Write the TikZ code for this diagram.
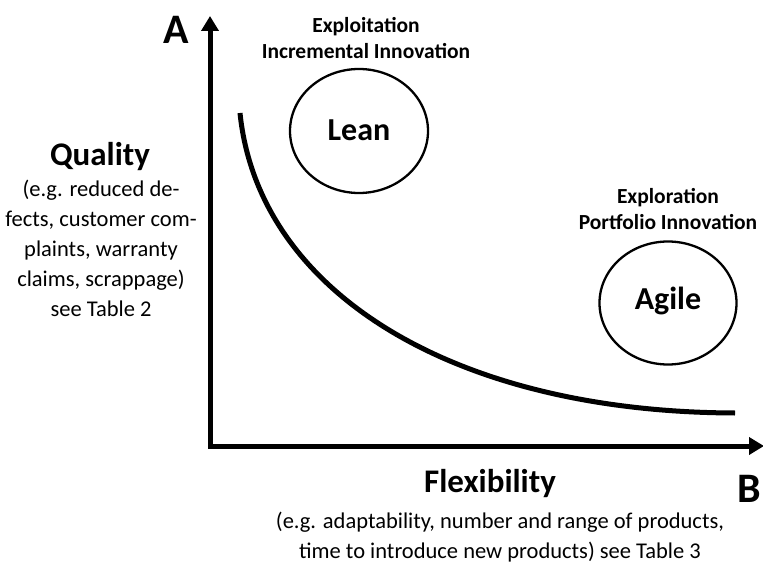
\documentclass[tikz,border=0pt]{standalone}
\usepackage{fontspec}
\setmainfont{Carlito}
\usetikzlibrary{arrows.meta,shapes.geometric}
\begin{document}
\begin{tikzpicture}[x=1pt,y=-1pt,
  axis/.style={line width=5pt,{Triangle[length=15pt,width=17pt]}-{Triangle[length=15pt,width=17pt]}},
  curvestyle/.style={line width=5pt},
  blob/.style={draw,line width=2.3pt,ellipse,inner sep=0pt},
  bigletter/.style={font=\fontsize{42}{42}\selectfont\bfseries},
  heading/.style={font=\fontsize{21.5}{26.5}\selectfont\bfseries,align=center},
  axlabel/.style={font=\fontsize{33}{36}\selectfont\bfseries},
  sub/.style={font=\fontsize{22.5}{30}\selectfont,align=center},
  circtext/.style={font=\fontsize{32}{32}\selectfont\bfseries}]
\useasboundingbox (0,0) rectangle (763,564);
\coordinate (atop) at (210,16);
\coordinate (corner) at (210,446);
\coordinate (bright) at (764,446);
\draw[axis] (atop) -- (corner) -- (bright);
\node[bigletter] (A) at (176,30) {A};
\node[bigletter] (B) at (749,489) {B};
\coordinate (cstart) at (240,113);
\coordinate (cend) at (735,413);
\draw[curvestyle] (cstart) .. controls (258,290) and (450,412) .. (cend);
\node[blob,minimum width=138pt,minimum height=124pt] (leanc) at (359,131) {};
\node[circtext] (lean) at (359,130) {Lean};
\node[blob,minimum width=137pt,minimum height=123pt] (agilec) at (668,303) {};
\node[circtext] (agile) at (668,301) {Agile};
\node[heading] (exploit) at (366,38) {Exploitation\\Incremental Innovation};
\node[heading] (explore) at (668,209) {Exploration\\Portfolio Innovation};
\node[axlabel] (quality) at (100,157) {Quality};
\node[sub] (qsub) at (101,248) {(e.g. reduced de-\\fects, customer com-\\plaints, warranty\\claims, scrappage)\\see Table 2};
\node[axlabel] (flex) at (490,484) {Flexibility};
\node[sub] (fsub) at (500,537) {(e.g. adaptability, number and range of products,\\time to introduce new products) see Table 3};
\end{tikzpicture}
\end{document}
